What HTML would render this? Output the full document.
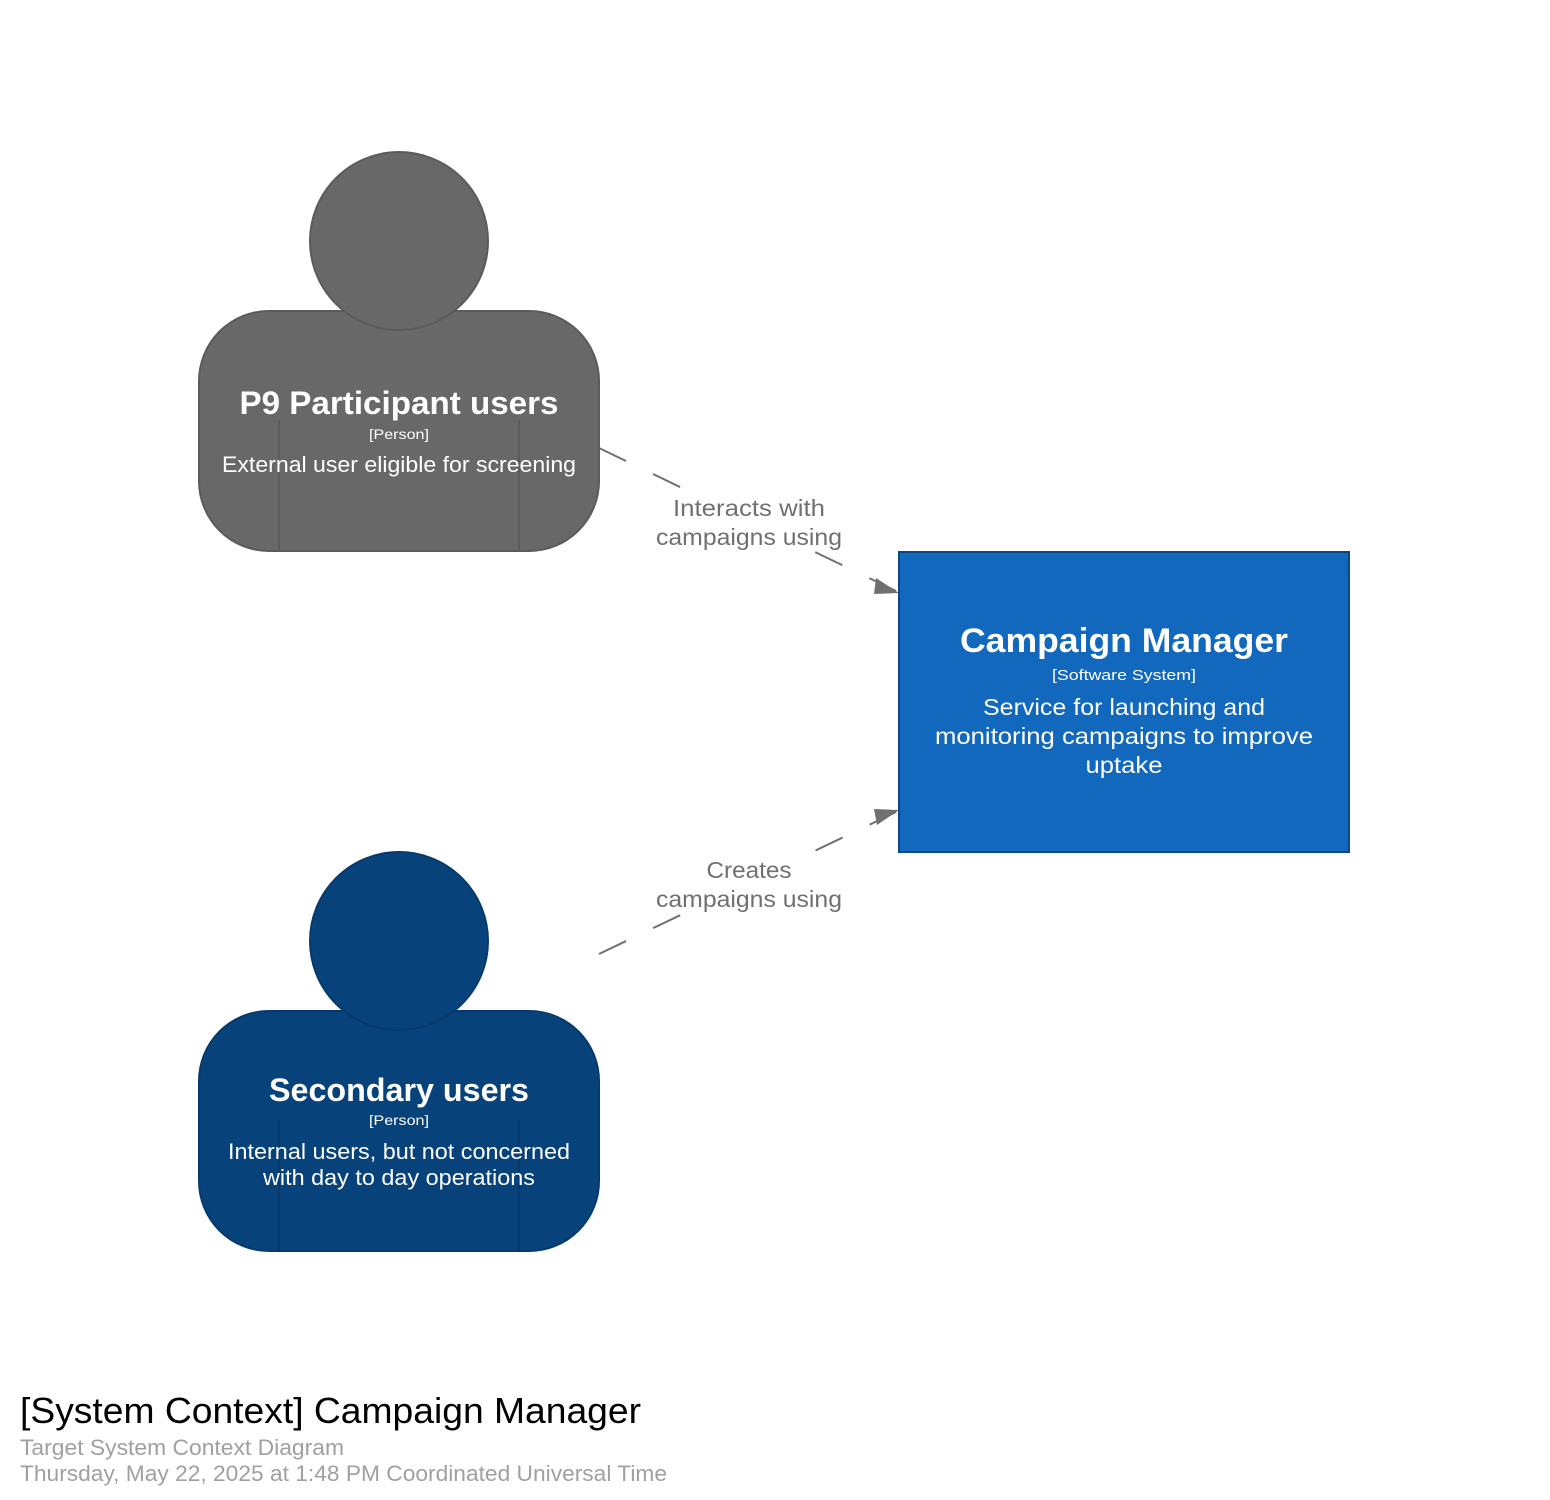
<!DOCTYPE html>
<html><head><meta charset="utf-8"><style>
html,body{margin:0;padding:0;background:#fff}
svg{display:block}
text{font-family:"Liberation Sans",sans-serif}
</style></head><body>
<svg width="1550" height="1500" viewBox="0 0 1550 1500" xmlns="http://www.w3.org/2000/svg">
<rect width="1550" height="1500" fill="#fff"/>
<line x1="599" y1="448" x2="896" y2="591" stroke="#707070" stroke-width="2" stroke-dasharray="30,30"/>
<path d="M876,578 L899,593 L874,594 z" fill="#707070"/>
<line x1="599" y1="954" x2="896" y2="812" stroke="#707070" stroke-width="2" stroke-dasharray="30,30"/>
<path d="M874,809 L899,810 L877,825 z" fill="#707070"/>
<rect x="650" y="490" width="200" height="60" fill="#fff"/>
<text x="749" y="516" font-size="23" fill="#707070" text-anchor="middle" textLength="152" lengthAdjust="spacingAndGlyphs">Interacts with</text>
<text x="749" y="545" font-size="23" fill="#707070" text-anchor="middle" textLength="186" lengthAdjust="spacingAndGlyphs">campaigns using</text>
<rect x="650" y="852" width="200" height="60" fill="#fff"/>
<text x="749" y="878" font-size="23" fill="#707070" text-anchor="middle" textLength="85" lengthAdjust="spacingAndGlyphs">Creates</text>
<text x="749" y="907" font-size="23" fill="#707070" text-anchor="middle" textLength="186" lengthAdjust="spacingAndGlyphs">campaigns using</text>
<rect x="199" y="311" width="400" height="240" rx="70" fill="#686868" stroke="#5b5b5b" stroke-width="2"/>
<circle cx="399" cy="241" r="89" fill="#686868" stroke="#5b5b5b" stroke-width="2"/>
<line x1="279" y1="420" x2="279" y2="551" stroke="#5b5b5b" stroke-width="2"/>
<line x1="519" y1="420" x2="519" y2="551" stroke="#5b5b5b" stroke-width="2"/>
<text x="399" y="414" font-size="32" font-weight="bold" fill="#fff" text-anchor="middle" textLength="319" lengthAdjust="spacingAndGlyphs">P9 Participant users</text>
<text x="399" y="439" font-size="14" fill="#fff" text-anchor="middle" textLength="60" lengthAdjust="spacingAndGlyphs">[Person]</text>
<text x="399" y="472" font-size="22" fill="#fff" text-anchor="middle" textLength="354" lengthAdjust="spacingAndGlyphs">External user eligible for screening</text>
<rect x="199" y="1011" width="400" height="240" rx="70" fill="#08427b" stroke="#073a6c" stroke-width="2"/>
<circle cx="399" cy="941" r="89" fill="#08427b" stroke="#073a6c" stroke-width="2"/>
<line x1="279" y1="1120" x2="279" y2="1251" stroke="#073a6c" stroke-width="2"/>
<line x1="519" y1="1120" x2="519" y2="1251" stroke="#073a6c" stroke-width="2"/>
<text x="399" y="1101" font-size="32" font-weight="bold" fill="#fff" text-anchor="middle" textLength="260" lengthAdjust="spacingAndGlyphs">Secondary users</text>
<text x="399" y="1125" font-size="14" fill="#fff" text-anchor="middle" textLength="60" lengthAdjust="spacingAndGlyphs">[Person]</text>
<text x="399" y="1159" font-size="22" fill="#fff" text-anchor="middle" textLength="342" lengthAdjust="spacingAndGlyphs">Internal users, but not concerned</text>
<text x="399" y="1185" font-size="22" fill="#fff" text-anchor="middle" textLength="272" lengthAdjust="spacingAndGlyphs">with day to day operations</text>
<rect x="899" y="552" width="450" height="300" fill="#1168bd" stroke="#0b4884" stroke-width="2"/>
<text x="1124" y="652" font-size="34" font-weight="bold" fill="#fff" text-anchor="middle" textLength="328" lengthAdjust="spacingAndGlyphs">Campaign Manager</text>
<text x="1124" y="680" font-size="15" fill="#fff" text-anchor="middle" textLength="144" lengthAdjust="spacingAndGlyphs">[Software System]</text>
<text x="1124" y="715" font-size="23" fill="#fff" text-anchor="middle" textLength="282" lengthAdjust="spacingAndGlyphs">Service for launching and</text>
<text x="1124" y="744" font-size="23" fill="#fff" text-anchor="middle" textLength="378" lengthAdjust="spacingAndGlyphs">monitoring campaigns to improve</text>
<text x="1124" y="773" font-size="23" fill="#fff" text-anchor="middle" textLength="77" lengthAdjust="spacingAndGlyphs">uptake</text>
<text x="20" y="1423" font-size="36" fill="#000" textLength="621" lengthAdjust="spacingAndGlyphs">[System Context] Campaign Manager</text>
<text x="20" y="1455" font-size="22" fill="#a0a0a0" textLength="324" lengthAdjust="spacingAndGlyphs">Target System Context Diagram</text>
<text x="20" y="1481" font-size="22" fill="#a0a0a0" textLength="647" lengthAdjust="spacingAndGlyphs">Thursday, May 22, 2025 at 1:48 PM Coordinated Universal Time</text>
</svg>
</body></html>
